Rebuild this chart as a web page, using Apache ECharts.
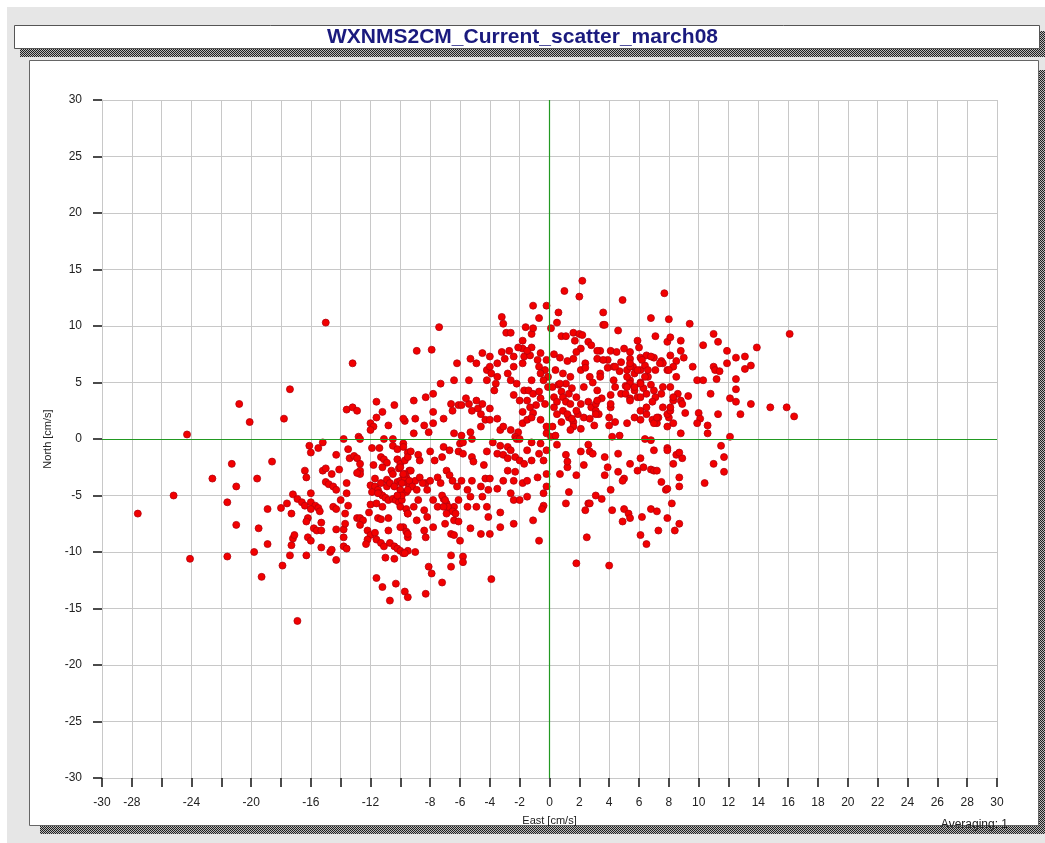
<!DOCTYPE html>
<html>
<head>
<meta charset="utf-8">
<title>WXNMS2CM_Current_scatter_march08</title>
<script src="https://cdn.jsdelivr.net/npm/echarts@6/dist/echarts.min.js"></script>
<style>
  html, body { margin: 0; padding: 0; background: #fff; }
  #chart { width: 1045px; height: 843px; }
</style>
</head>
<body>
<div id="chart"></div>
<script>
// current vectors [east, north] in cm/s, grouped by area
const westPoints = [
  [-15.0,10.3],[-17.4,4.4],[-20.8,3.1],[-20.1,1.5],[-17.8,1.8],[-24.3,0.4],[-13.6,2.6],
  [-16.1,-0.6],[-15.5,-0.8],[-15.2,-0.3],[-16.0,-1.2],[-14.3,-1.4],[-13.8,0.0],
  [-21.3,-2.2],[-18.6,-2.0],[-22.6,-3.5],[-19.6,-3.5],[-21.0,-4.2],[-25.2,-5.0],[-21.6,-5.6],
  [-27.6,-6.6],[-18.9,-6.2],[-18.0,-6.1],[-17.3,-6.6],[-21.0,-7.6],[-19.5,-7.9],[-18.9,-9.3],
  [-24.1,-10.6],[-21.6,-10.4],[-19.8,-10.0],[-17.9,-11.2],[-19.3,-12.2],[-16.9,-16.1],
  [-17.4,-10.3],[-16.3,-10.3],[-17.3,-9.4],[-17.2,-8.8],[-17.1,-8.5],
  [-17.2,-4.9],[-16.9,-5.3],[-16.6,-5.6],[-16.4,-5.9],[-16.0,-5.6],[-17.6,-5.7],[-16.0,-4.8],
  [-16.4,-2.8],[-16.3,-3.4],[-15.2,-2.8],[-15.0,-2.6],[-14.6,-3.1],[-14.1,-2.7],
  [-15.0,-3.8],[-14.8,-4.0],[-14.5,-4.2],[-14.3,-4.5],[-13.6,-3.9],[-13.6,-4.8],[-14.0,-5.4],
  [-14.5,-6.0],[-14.3,-6.2],[-15.7,-5.9],[-15.5,-6.1],[-15.4,-6.4],[-16.0,-6.2],
  [-16.2,-7.0],[-16.3,-7.3],[-15.8,-7.9],[-15.6,-8.1],[-15.3,-8.1],[-15.3,-7.4],
  [-16.2,-8.7],[-16.0,-9.0],[-15.3,-9.6],[-14.7,-10.0],[-14.6,-9.8],[-14.3,-10.7],
  [-13.8,-9.5],[-13.6,-9.7],[-13.8,-8.7],[-13.8,-8.0],[-14.3,-8.0],[-13.7,-7.5],[-13.7,-6.6],[-13.5,-5.9],
  [-13.5,-0.9],[-13.4,-1.7]
];

const midWestPoints = [
  [-12.0,1.4],[-11.8,1.1],[-10.8,1.2],[-9.7,1.6],[-12.0,0.8],[-12.8,0.2],[-12.7,0.0],[-11.1,0.0],[-10.5,0.0],
  [-11.9,-0.8],[-11.4,-0.8],[-10.5,-0.6],[-10.2,-0.9],[-9.8,-0.4],[-9.5,-1.2],
  [-13.1,-1.5],[-12.9,-1.7],[-12.7,-2.8],[-12.7,-3.1],[-12.9,-3.0],[-12.7,-2.2],[-11.8,-2.3],
  [-11.3,-1.6],[-11.1,-1.8],[-10.9,-2.1],[-11.2,-2.5],[-10.6,-2.8],[-10.5,-3.1],
  [-10.2,-1.8],[-10.0,-2.2],[-9.7,-1.9],[-9.5,-1.6],[-10.1,-2.6],[-9.8,-3.2],[-9.6,-3.4],[-9.4,-2.8],
  [-10.9,-3.6],[-10.9,-4.2],[-10.7,-3.9],[-10.2,-3.8],[-10.0,-3.7],[-9.7,-3.5],[-9.5,-3.9],
  [-12.0,-4.1],[-11.7,-4.2],[-11.5,-4.5],[-11.4,-4.8],[-11.2,-5.0],[-11.0,-5.2],[-10.8,-5.4],[-10.5,-5.3],[-10.3,-5.4],[-10.1,-5.6],
  [-11.9,-4.7],[-11.5,-4.8],[-10.0,-4.5],[-9.6,-4.7],[-9.9,-5.4],[-10.0,-6.0],[-9.6,-6.2],[-9.5,-6.6],
  [-12.9,-7.0],[-12.7,-7.0],[-12.5,-7.2],[-12.1,-6.5],[-12.0,-5.8],[-11.5,-7.0],[-11.3,-7.1],[-10.8,-7.0],[-10.8,-8.1],
  [-12.7,-7.6],[-12.2,-8.1],[-12.0,-8.5],[-11.7,-8.3],[-11.6,-8.9],[-12.2,-8.9],[-12.3,-9.3],[-11.3,-9.2],[-11.1,-9.5],
  [-10.7,-9.2],[-10.4,-9.5],[-10.2,-9.7],[-10.0,-9.9],[-9.8,-10.1],[-9.5,-9.9],[-9.8,-7.8],[-9.6,-8.2],[-9.5,-8.7],
  [-11.0,-10.5],[-10.4,-10.6],[-11.6,-12.3],[-11.2,-13.1],[-10.7,-14.3],[-10.3,-12.8],[-9.7,-13.5],[-9.5,-14.0],
  [-13.2,6.7],[-13.2,2.8],[-12.9,2.5],[-11.6,3.3],[-10.4,3.0],[-11.6,1.9],[-11.2,2.4],[-9.8,1.8],
  [-11.7,-3.5],[-11.3,-3.9],[-10.4,-4.2],[-9.9,-5.0],[-10.2,-5.0],[-9.4,-4.2],[-11.2,-6.0],[-11.6,-5.7]
];

const centrePoints = [
  [-7.4,9.9],[-8.9,7.8],[-7.9,7.9],[-7.3,4.9],[-9.1,3.4],[-8.3,3.7],[-7.8,4.0],[-6.4,5.2],[-6.2,6.7],
  [-5.3,7.1],[-4.9,6.7],[-4.5,7.6],[-4.2,6.1],[-4.0,6.4],[-3.2,10.8],[-3.1,10.2],[-2.9,9.4],[-2.6,9.4],
  [-3.2,7.7],[-3.0,7.1],[-2.7,7.8],[-1.1,11.8],[-0.2,11.8],[-1.6,9.9],[-1.2,9.3],[-1.1,9.8],[-0.7,10.7],
  [-1.8,8.7],[-1.8,8.0],[-1.7,7.3],[-1.3,7.4],[-1.2,8.1],[-1.8,6.7],[-0.6,7.6],[-0.2,7.0],[-0.7,6.4],[-0.3,6.1],[-0.1,5.5],
  [-4.2,5.2],[-3.9,5.8],[-3.6,4.9],[-3.7,4.3],[-5.4,5.2],[-2.4,6.4],[-2.6,5.2],[-2.2,4.9],[-1.7,4.3],[-2.4,3.9],[-2.0,3.4],[-1.4,4.3],[-1.2,5.2],
  [-1.1,4.0],[-0.7,4.2],[-0.6,3.6],[-0.3,3.1],[-0.9,3.0],[-1.3,2.8],[-1.5,3.4],[-1.8,2.4],[-1.1,2.3],
  [-4.0,7.3],[-3.5,6.7],[-2.4,7.3],[-2.1,8.1],[-1.5,7.8],[-0.8,7.0],[-0.6,5.8],[-0.4,5.2],[-0.1,4.6],[-2.8,5.8],[-3.5,5.5],
  [-6.6,3.1],[-6.5,2.5],[-6.1,3.0],[-5.9,3.0],[-5.4,3.1],[-5.6,3.6],[-5.2,2.5],
  [-7.8,2.4],[-7.1,1.8],[-7.8,1.4],[-4.8,2.7],[-4.6,2.2],[-4.5,3.1],[-4.0,2.7],[-4.9,3.4],
  [-9.0,1.8],[-8.4,1.2],[-9.1,0.5],[-8.1,0.6],[-6.4,0.5],[-5.9,0.3],[-5.3,0.6],[-4.6,1.1],[-4.3,1.7],[-4.0,1.7],[-3.5,1.8],
  [-3.3,0.8],[-3.1,1.1],[-2.6,0.8],[-2.1,0.6],[-1.8,1.4],[-1.5,1.7],[-1.2,1.9],[-0.6,1.7],[-0.2,1.1],[-0.2,0.5],[-2.3,0.2],[-2.2,0.0],[-2.0,0.0],
  [-6.0,-0.4],[-5.8,-0.3],[-5.2,0.0],[-3.8,-0.3],[-3.3,-0.6],[-2.8,-0.7],[-1.2,-0.3],[-0.6,-0.4],
  [-9.8,-0.7],[-9.3,-1.1],[-8.8,-1.4],[-8.7,-1.9],[-8.0,-1.1],[-7.7,-1.9],[-7.1,-0.7],[-7.2,-1.6],[-6.7,-1.0],[-6.1,-1.1],[-5.8,-1.3],
  [-5.2,-1.6],[-5.1,-2.0],[-4.4,-2.3],[-4.2,-1.1],[-3.5,-1.3],[-3.1,-1.4],[-2.8,-1.7],[-2.6,-1.0],[-2.3,-1.6],[-2.0,-1.9],[-1.5,-1.0],[-1.7,-2.2],[-1.2,-1.9],[-0.7,-1.3],[-0.4,-1.9],[-0.2,-1.0],
  [-10.0,-2.5],[-9.7,-3.1],[-9.3,-2.8],[-9.0,-3.7],[-8.7,-3.4],[-8.3,-3.9],[-8.0,-3.7],[-7.5,-3.4],[-7.3,-3.9],[-6.9,-2.8],[-6.7,-3.2],[-6.5,-3.7],[-6.2,-4.2],[-5.9,-3.7],[-5.5,-4.5],[-5.2,-3.7],
  [-9.8,-3.1],[-9.4,-3.7],[-9.2,-4.2],[-8.9,-4.5],[-8.5,-3.9],[-8.2,-4.5],[-9.5,-4.5],[-9.9,-3.9],
  [-4.6,-4.2],[-4.3,-3.5],[-4.0,-3.5],[-4.1,-4.5],[-3.5,-4.4],[-3.1,-3.7],[-2.8,-2.8],[-2.4,-3.7],[-2.3,-2.9],[-1.8,-3.9],[-1.5,-3.7],[-0.8,-3.4],[-0.2,-3.1],[-0.2,-4.2],[-0.4,-4.8],
  [-9.5,-6.6],[-9.1,-6.0],[-8.8,-5.4],[-8.4,-6.3],[-8.2,-6.9],[-7.8,-5.4],[-7.5,-6.0],[-7.1,-5.3],[-6.9,-5.7],[-6.6,-6.3],[-6.4,-6.0],[-6.1,-5.4],[-5.5,-6.0],[-5.3,-5.1],[-4.9,-6.0],[-4.5,-5.1],[-4.2,-6.0],[-4.1,-6.9],[-3.3,-6.5],[-2.6,-4.8],[-2.4,-5.4],[-2.0,-5.4],[-1.5,-5.1],
  [-7.2,-5.0],[-7.0,-5.4],[-6.8,-6.0],[-6.5,-6.4],[-6.3,-6.6],[-6.9,-6.6],[-7.1,-6.0],[-6.4,-7.2],
  [-10.0,-7.8],[-9.5,-8.4],[-8.9,-7.2],[-8.4,-8.1],[-8.3,-8.7],[-7.8,-7.8],[-7.0,-7.5],[-6.6,-8.4],[-6.4,-8.5],[-6.1,-7.3],[-6.0,-9.0],[-5.3,-7.9],[-4.6,-8.4],[-4.0,-8.4],[-3.3,-7.8],[-2.4,-7.5],[-1.1,-7.2],[-0.7,-9.0],
  [-9.7,-10.1],[-9.0,-10.0],[-8.1,-11.3],[-7.9,-11.9],[-6.6,-10.3],[-6.6,-11.3],[-5.8,-10.4],[-5.8,-10.9],[-3.9,-12.4],
  [-8.3,-13.7],[-7.2,-12.7],[-0.4,-5.9],[-0.5,-6.2]
];

const midEastPoints = [
  [2.2,14.0],[1.0,13.1],[2.0,12.6],[4.9,12.3],[7.7,12.9],[0.6,11.2],[0.5,10.3],[3.6,11.2],[3.6,10.1],[3.7,10.1],[6.8,10.7],[8.0,10.6],[4.6,9.6],
  [0.8,9.1],[1.1,9.1],[1.6,9.4],[2.0,9.3],[2.2,9.2],[1.7,8.7],[2.6,8.6],[2.8,8.3],[2.1,8.0],[1.8,7.7],
  [3.4,7.8],[4.1,7.8],[4.5,7.7],[5.0,8.0],[5.4,7.7],[5.9,8.7],[6.0,8.1],[7.1,9.1],[7.9,8.6],[8.1,9.0],[0.1,9.8],
  [0.3,7.5],[0.7,7.2],[1.2,6.9],[1.6,7.1],[2.4,6.7],[3.2,7.1],[3.9,7.0],[4.8,6.8],[5.4,7.1],[6.1,7.2],[6.5,7.4],[7.0,7.2],[7.5,6.9],[8.1,7.4],[8.5,6.9],
  [0.4,6.1],[0.9,5.8],[1.4,5.5],[2.1,6.1],[2.4,6.3],[2.7,5.5],[3.4,5.8],[3.9,6.3],[4.3,6.4],[4.7,6.0],[5.2,6.1],[5.6,6.4],[5.7,5.8],[6.1,6.1],[6.4,6.5],[6.6,5.5],[7.1,6.1],[7.6,6.7],[7.9,6.1],[8.3,6.4],[8.5,5.5],
  [0.2,4.6],[0.6,4.8],[0.8,4.2],[1.1,4.9],[1.3,4.0],[1.5,4.5],[1.8,3.7],[2.3,4.6],[2.9,5.0],[3.2,4.3],[3.5,3.6],[4.1,3.9],[4.4,4.6],[4.8,4.0],[5.1,4.7],[5.4,5.2],[5.7,4.3],[5.9,3.7],[6.3,4.5],[6.8,4.8],[7.1,3.7],[7.5,4.0],[8.1,4.6],[8.3,3.4],[8.6,4.0],
  [0.3,2.8],[0.5,2.2],[0.9,2.5],[1.3,1.9],[1.6,1.5],[1.9,2.2],[2.6,3.3],[2.8,2.8],[3.1,3.1],[3.3,2.2],[3.0,1.2],[4.1,2.8],[4.0,1.9],[4.0,1.2],[4.4,1.5],[5.2,1.4],[5.7,1.9],[6.1,2.5],[6.5,2.2],[6.9,1.7],[7.2,1.4],[7.6,2.8],[8.0,1.9],[8.3,1.4],
  [0.7,4.9],[0.9,3.7],[1.1,3.3],[1.4,3.1],[1.2,2.2],[1.5,1.8],[1.8,2.5],[0.8,1.5],[0.3,3.7],[0.5,3.3],[2.1,3.1],[3.1,2.5],[2.3,1.9],[2.7,1.8],[1.6,1.1],
  [5.2,5.5],[5.4,4.9],[5.7,4.6],[6.1,5.0],[6.4,5.5],[6.6,6.1],[5.4,6.4],[5.9,6.1],[5.1,4.0],[5.4,3.6],[6.1,3.7],[6.5,4.0],[6.9,3.3],
  [7.9,2.2],[8.1,2.5],[7.3,1.9],[7.0,1.4],
  [3.2,7.8],[3.6,7.0],[4.4,6.4],[5.4,6.7],[6.2,7.0],[6.8,7.3],[7.4,6.7],[8.0,6.1],[3.4,5.5],[4.3,5.2],[5.2,4.6],[6.1,4.9],[7.0,4.3],[7.6,4.6],
  [3.2,3.4],[4.1,3.1],[5.4,3.4],[6.5,2.8],[7.2,1.9],[8.1,2.8],[8.3,3.7],[3.1,2.2],[6.1,1.7],[7.9,1.1],
  [0.1,0.2],[0.4,0.3],[4.2,0.2],[4.7,0.3],[6.4,0.0],[6.8,-0.1],[7.9,-0.8],[0.2,1.1],[1.4,0.8],[2.1,0.9],
  [0.5,-0.5],[1.1,-1.4],[2.1,-1.1],[2.6,-0.5],[2.7,-1.1],[2.9,-1.3],[3.7,-1.6],[3.9,-2.5],[4.6,-1.3],[5.4,-2.2],[6.1,-1.7],[6.3,-2.5],[7.0,-1.0],[7.9,-1.0],[8.3,-2.2],[8.5,-1.4],[1.2,-2.5],[2.3,-2.3],
  [0.7,-3.1],[1.2,-2.0],[1.8,-3.2],[1.3,-4.7],[1.1,-5.7],[2.4,-6.3],[2.6,-5.7],[2.5,-8.7],[1.8,-11.0],
  [3.7,-3.2],[4.6,-2.9],[5.0,-3.5],[4.9,-3.7],[5.9,-2.8],[6.8,-2.7],[7.0,-2.8],[7.2,-2.8],[7.5,-3.8],[7.8,-4.5],[7.9,-4.4],[8.2,-5.7],[7.9,-7.0],[8.7,-3.4],[8.7,-4.2],
  [4.1,-4.5],[3.1,-5.0],[3.5,-5.3],[2.7,-5.7],[4.2,-6.3],[5.0,-6.2],[5.3,-6.6],[5.4,-7.0],[4.9,-7.3],[6.2,-6.9],[6.8,-6.2],[7.2,-6.4],[7.3,-8.1],[6.1,-8.5],[6.5,-9.3],[4.0,-11.2],[8.7,-7.5],[8.4,-8.1]
];

const eastPoints = [
  [9.4,10.2],[11.0,9.3],[11.3,8.6],[10.3,8.3],[8.8,8.7],[8.8,7.8],[9.0,7.2],[11.9,7.8],[12.5,7.2],[13.1,7.3],[13.9,8.1],[16.1,9.3],
  [9.6,6.4],[11.0,6.4],[11.1,6.1],[11.4,6.0],[11.9,6.7],[13.1,6.2],[13.5,6.5],[9.9,5.2],[10.3,5.2],[11.2,5.3],[12.5,5.3],[12.5,4.4],
  [10.8,4.0],[12.1,3.6],[12.5,3.3],[13.5,3.1],[14.8,2.8],[15.9,2.8],[16.4,2.0],[12.8,2.2],[11.3,2.2],
  [9.3,3.8],[8.8,3.4],[8.9,3.1],[9.1,2.3],[10.0,2.3],[10.1,1.8],[9.9,1.4],[10.6,1.2],[10.6,0.5],[8.8,0.5],[12.1,0.2],
  [11.5,-0.6],[11.7,-1.6],[11.0,-2.2],[11.7,-2.9],[8.9,-1.7],[8.7,-1.2],[10.4,-3.9]
];

const xTicks = [-30, 30, 2];
const yTicks = [-30, 30, 5];
// the original drops these east labels where they would crowd
const xHiddenLabels = [-26, -22, -18, -14, -10];

const allPoints = [].concat(westPoints, midWestPoints, centrePoints, midEastPoints, eastPoints);

// stippled drop shadow like the original frame
function stipple() {
  const c = document.createElement('canvas');
  c.width = 2; c.height = 2;
  const g = c.getContext('2d');
  g.fillStyle = '#b8b8b8'; g.fillRect(0, 0, 2, 2);
  g.fillStyle = '#202020'; g.fillRect(0, 0, 1, 1); g.fillRect(1, 1, 1, 1);
  return { image: c, repeat: 'repeat' };
}

const chart = echarts.init(document.getElementById('chart'), null, { renderer: 'canvas' });
const shade = stipple();
const FONT = '"Liberation Sans", Arial, sans-serif';

chart.setOption({
  animation: false,
  textStyle: { fontFamily: FONT },
  title: {
    text: 'WXNMS2CM_Current_scatter_march08',
    left: 'center', top: 26, padding: 0,
    textStyle: { color: '#1a1a7e', fontSize: 21, lineHeight: 22, fontWeight: 'bold', fontFamily: FONT }
  },
  graphic: [
    { type: 'rect', z: -10, silent: true, shape: { x: 7, y: 7, width: 1038, height: 836 }, style: { fill: '#e6e6e6' } },
    { type: 'rect', z: -9, silent: true, shape: { x: 20, y: 49, width: 1025, height: 8 }, style: { fill: shade } },
    { type: 'rect', z: -9, silent: true, shape: { x: 1040, y: 31, width: 5, height: 26 }, style: { fill: shade } },
    { type: 'rect', z: -8, silent: true, shape: { x: 14.5, y: 25.5, width: 1025, height: 23 }, style: { fill: '#fff', stroke: '#555', lineWidth: 1 } },
    { type: 'rect', z: -9, silent: true, shape: { x: 40, y: 826, width: 1005, height: 8 }, style: { fill: shade } },
    { type: 'rect', z: -9, silent: true, shape: { x: 1039, y: 70, width: 6, height: 764 }, style: { fill: shade } },
    { type: 'rect', z: -8, silent: true, shape: { x: 29.5, y: 60.5, width: 1009, height: 765 }, style: { fill: '#fff', stroke: '#666', lineWidth: 1 } },
    { type: 'text', right: 37, top: 819, style: { text: 'Averaging: 1', fill: '#222', font: '12px ' + FONT } }
  ],
  grid: { left: 102, top: 100, width: 895, height: 678 },
  xAxis: {
    type: 'value', min: xTicks[0], max: xTicks[1], interval: xTicks[2],
    name: 'East [cm/s]', nameLocation: 'middle', nameGap: 37,
    nameTextStyle: { color: '#222', fontSize: 11 },
    axisLine: { show: true, onZero: false, lineStyle: { color: '#c8c8c8' } },
    axisTick: { show: true, length: 9, lineStyle: { color: '#111', width: 1.5 } },
    axisLabel: {
      color: '#222', fontSize: 12, margin: 19,
      formatter: (v) => (xHiddenLabels.includes(v) ? '' : String(v))
    },
    splitLine: { show: true, lineStyle: { color: '#c8c8c8' } }
  },
  yAxis: {
    type: 'value', min: yTicks[0], max: yTicks[1], interval: yTicks[2],
    name: 'North [cm/s]', nameLocation: 'middle', nameGap: 47, nameRotate: 90,
    nameTextStyle: { color: '#222', fontSize: 11 },
    axisLine: { show: true, onZero: false, lineStyle: { color: '#c8c8c8' } },
    axisTick: { show: true, length: 9, lineStyle: { color: '#111', width: 1.5 } },
    axisLabel: { color: '#222', fontSize: 12, margin: 20 },
    splitLine: { show: true, lineStyle: { color: '#c8c8c8' } }
  },
  series: [{
    type: 'scatter',
    data: allPoints,
    symbol: 'circle',
    symbolSize: 7,
    itemStyle: { color: '#f20000', opacity: 1, borderColor: '#b4000c', borderWidth: 0.8 },
    markLine: {
      silent: true, symbol: 'none', label: { show: false },
      lineStyle: { color: '#229922', type: 'solid', width: 1.2 },
      data: [{ xAxis: 0 }, { yAxis: 0 }]
    }
  }]
});
</script>
</body>
</html>
